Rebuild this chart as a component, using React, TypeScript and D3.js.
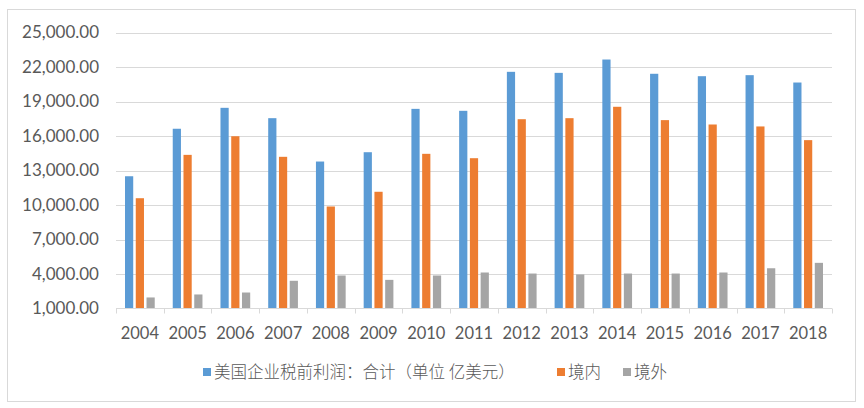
import React from "react";
import * as d3 from "d3";

const years = ["2004","2005","2006","2007","2008","2009","2010","2011","2012","2013","2014","2015","2016","2017","2018"];
const totalProfit = [12500,16630,18450,17550,13780,14590,18360,18190,21580,21490,22650,21410,21200,21290,20650];
const domesticProfit = [10590,14360,15980,14190,9870,11150,14450,14070,17460,17550,18540,17380,17000,16830,15640];
const foreignProfit = [1960,2220,2390,3410,3870,3490,3870,4130,4040,3960,4040,4040,4130,4500,4970];
const seriesNames = ["美国企业税前利润：合计（单位 亿美元）", "境内", "境外"];
const seriesColors = ["#5B9BD5", "#ED7D31", "#A5A5A5"];
const yTicks = [1000,4000,7000,10000,13000,16000,19000,22000,25000];

const W = 864, H = 408;
const plotLeft = 116, plotRight = 832, plotTop = 32.5, plotBottom = 308.5;

export default function App() {
  const x0 = d3.scaleBand<string>().domain(years).range([plotLeft, plotRight]).paddingInner(0).paddingOuter(0);
  const y = d3.scaleLinear().domain([1000, 25000]).range([plotBottom, plotTop]);
  const bw = x0.bandwidth();
  const barW = bw * 0.172;
  const step = barW * 1.31;
  const groupW = barW + step * 2;
  const x1 = (i: number) => (bw - groupW) / 2 + i * step;
  const allSeries = [totalProfit, domesticProfit, foreignProfit];
  const fmt = d3.format(",.2f");
  const font = "Lato, 'Open Sans', sans-serif";
  const legendX = [203, 557, 623];

  return (
    <svg width={W} height={H} style={{ position: "absolute", left: 0, top: 0, background: "#fff" }}>
      <rect x={0} y={0} width={W} height={H} fill="#fff" />
      <rect x={7.5} y={9.5} width={848} height={392} fill="#fff" stroke="#d9d9d9" strokeWidth={1} />
      {yTicks.map((t) => (
        <g key={t}>
          {t !== 1000 && (
            <line x1={plotLeft} x2={plotRight} y1={Math.round(y(t)) + 0.5} y2={Math.round(y(t)) + 0.5} stroke="#d9d9d9" strokeWidth={1} />
          )}
          <text x={99} y={y(t) + 5.9} textAnchor="end" fontFamily={font} fontSize={17} fill="#595959">{fmt(t)}</text>
        </g>
      ))}
      {allSeries.map((vals, si) => (
        <g key={si}>
          {vals.map((v, i) => (
            <rect key={i} x={(x0(years[i]) as number) + x1(si)} y={y(v)} width={barW} height={plotBottom - y(v)} fill={seriesColors[si]} />
          ))}
        </g>
      ))}
      <line x1={plotLeft} x2={plotRight} y1={plotBottom} y2={plotBottom} stroke="#d9d9d9" strokeWidth={1} />
      {years.concat(["end"]).map((yr, i) => {
        const xx = Math.round(plotLeft + i * bw) + 0.5;
        return <line key={"t" + i} x1={xx} x2={xx} y1={plotBottom} y2={plotBottom + 5} stroke="#d9d9d9" strokeWidth={1} />;
      })}
      {years.map((yr) => (
        <text key={yr} x={(x0(yr) as number) + bw / 2} y={338.5} textAnchor="middle" fontFamily={font} fontSize={16.5} fill="#595959">{yr}</text>
      ))}
      {seriesNames.map((n, i) => (
        <g key={n}>
          <rect x={legendX[i]} y={368} width={8} height={8} fill={seriesColors[i]} />
          <text x={legendX[i] + 11} y={378} fontFamily="'Noto Sans CJK SC', sans-serif" fontWeight={300} fontSize={16.5} fill="#595959">{n}</text>
        </g>
      ))}
    </svg>
  );
}
